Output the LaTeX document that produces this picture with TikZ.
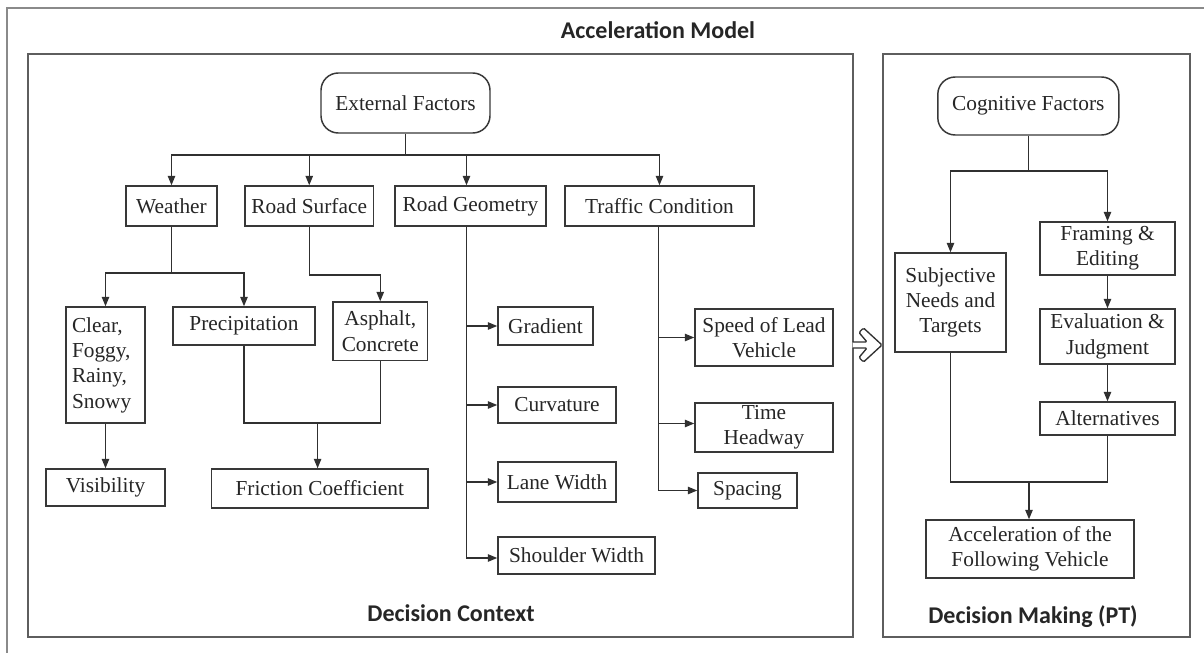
\documentclass[tikz,border=0pt]{standalone}
\usepackage{fontspec}
\setmainfont{Liberation Serif}
\newfontfamily\headfont{Carlito}
\usetikzlibrary{arrows.meta,calc}
\definecolor{boxc}{HTML}{383838}
\definecolor{linec}{HTML}{303030}
\definecolor{txtc}{HTML}{262626}
\definecolor{outerc}{HTML}{8A8A8A}
\definecolor{innerc}{HTML}{5E5E5E}
\begin{document}
\begin{tikzpicture}[x=0.75pt,y=-0.75pt,
  box/.style={draw=boxc, line width=1.1pt, inner sep=0pt, align=center, text=txtc, font=\fontsize{16}{19}\selectfont},
  sz/.style 2 args={minimum width={#1*0.75pt}, minimum height={#2*0.75pt}},
  rbox/.style={box, rounded corners=13pt},
  conn/.style={draw=linec, line width=1pt},
  arr/.style={conn, -{Triangle[length=7pt,width=5.5pt]}},
  outerframe/.style={draw=outerc, line width=1.8pt},
  innerframe/.style={draw=innerc, line width=1.5pt},
  head/.style={font=\headfont\bfseries\fontsize{18}{21}\selectfont, text=txtc}
]
\useasboundingbox (0,0) rectangle (1204,653);
\fill[white] (0,0) rectangle (1204,653);

% frames
\draw[outerframe] (7,653) -- (7,8) -- (1204,8);
\draw[innerframe] (27.5,54) rectangle (852.5,637);
\draw[innerframe] (883,54) rectangle (1189.5,637);

% titles
\node[head] (title) at (658,30) {Acceleration Model};
\node[head] (dctx) at (451,613) {Decision Context};
\node[head] (dmk) at (1033,617) {Decision Making (PT)};

% left side nodes
\node[rbox, sz={169}{60}] (ext) at (405.5,103) {External Factors};
\node[box, sz={91}{40}] (weather) at (171.5,206) {Weather};
\node[box, sz={128.5}{40}] (rsurf) at (309.25,206) {Road Surface};
\node[box, sz={151}{40}] (rgeo) at (470.5,206) {Road Geometry};
\node[box, sz={189}{40}] (traffic) at (659.5,206) {Traffic Condition};
\node[box, align=left, text width={67*0.75pt}, inner xsep={6*0.75pt}, minimum height={116*0.75pt}] (clear) at (105.5,365) {Clear,\\Foggy,\\Rainy,\\Snowy};
\node[box, sz={142}{38}] (precip) at (244,326) {Precipitation};
\node[box, sz={94.5}{58.7}] (asphalt) at (380.25,331.35) {Asphalt,\\Concrete};
\node[box, sz={119}{37}] (visib) at (105.5,487.5) {Visibility};
\node[box, sz={216.4}{39}] (friction) at (319.8,488.5) {Friction Coefficient};
\node[box, sz={95}{38}] (gradient) at (545.5,326) {Gradient};
\node[box, sz={118}{36}] (curv) at (557,405) {Curvature};
\node[box, sz={118}{40}] (lane) at (557,482) {Lane Width};
\node[box, sz={157}{37}] (shoulder) at (576.5,555.5) {Shoulder Width};
\node[box, sz={138}{57}] (speed) at (764,337.5) {Speed of Lead\\Vehicle};
\node[box, sz={138}{49}] (time) at (764,427.5) {Time\\Headway};
\node[box, sz={99}{35}] (spacing) at (747.5,490.5) {Spacing};

% right side nodes
\node[rbox, sz={181}{58}] (cog) at (1028.3,106) {Cognitive Factors};
\node[box, sz={111}{99}] (subj) at (950.5,302.5) {Subjective\\Needs and\\Targets};
\node[box, sz={135}{53}] (framing) at (1107.5,248.5) {Framing \&\\Editing};
\node[box, sz={135}{55}] (eval) at (1107.5,336.5) {Evaluation \&\\Judgment};
\node[box, sz={135}{33}] (alt) at (1107.5,418.5) {Alternatives};
\node[box, sz={208}{58}] (accel) at (1030,549) {Acceleration of the\\Following Vehicle};

% external factors branches
\coordinate (eb) at (405.5,155);
\draw[conn] (ext.south) -- (eb);
\draw[arr] (eb) -| (weather.north);
\draw[arr] (eb) -| (rsurf.north);
\coordinate (rgn) at ($(rgeo.north)+(-4,0)$);
\draw[arr] (eb) -| (rgn);
\draw[arr] (eb) -| (traffic.north);

% weather
\coordinate (wb) at (171.5,273);
\draw[conn] (weather.south) -- (wb);
\draw[arr] (wb) -| (clear.north);
\draw[arr] (wb) -| (precip.north);
\draw[arr] (clear.south) -- (visib.north);

% road surface
\coordinate (rsb) at (309.25,275);
\draw[arr] (rsurf.south) -- (rsb) -| (asphalt.north);

% friction
\coordinate (fj) at (317.6,423);
\draw[conn] (precip.south) |- (fj) -| (asphalt.south);
\draw[arr] (fj) -- (fj |- friction.north);

% road geometry
\coordinate (rgs) at ($(rgeo.south)+(-4,0)$);
\draw[arr] (rgs) |- ($(shoulder.west)+(0,2.5)$);
\draw[arr] (rgs |- gradient.west) -- (gradient.west);
\draw[arr] (rgs |- curv.west) -- (curv.west);
\draw[arr] (rgs |- lane.west) -- (lane.west);

% traffic
\coordinate (tcs) at ($(traffic.south)+(-1,0)$);
\draw[arr] (tcs) |- (spacing.west);
\draw[arr] (tcs |- speed.west) -- (speed.west);
\draw[arr] ($(tcs |- time.west)+(0,-4)$) -- ($(time.west)+(0,-4)$);

% hollow arrow between panels
\draw[conn, rounded corners=1pt, fill=white] (852.5,342) -- (867,342) -- (859,332.5) -- (863.5,328) -- (882,345) -- (863.5,362) -- (859,357.5) -- (867,348) -- (852.5,348);

% cognitive factors
\coordinate (cb) at (1028.3,171);
\draw[conn] (cog.south) -- (cb);
\draw[arr] (cb) -| (subj.north);
\draw[arr] (cb) -| (framing.north);
\draw[arr] (framing.south) -- (eval.north);
\draw[arr] (eval.south) -- (alt.north);
\coordinate (aj) at (1029,482);
\draw[conn] (subj.south) |- (aj) -| (alt.south);
\draw[arr] (aj) -- (aj |- accel.north);
\end{tikzpicture}
\end{document}
